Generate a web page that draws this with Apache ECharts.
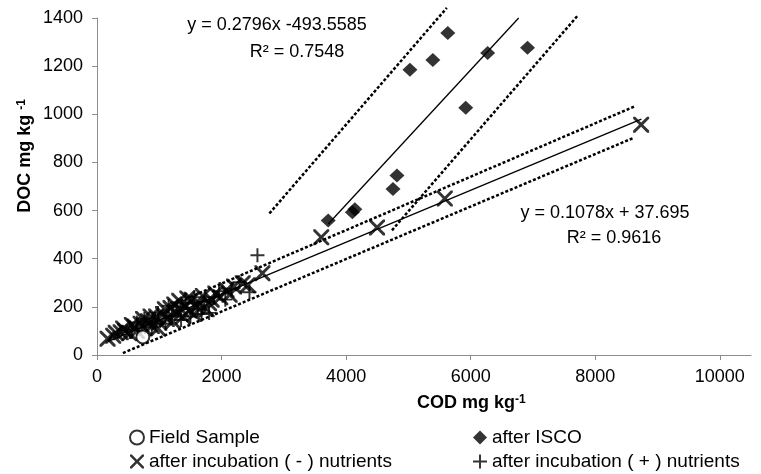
<!DOCTYPE html>
<html>
<head>
<meta charset="utf-8">
<script src="https://cdn.jsdelivr.net/npm/echarts@6/dist/echarts.min.js"></script>
<style>
  html, body { margin: 0; padding: 0; background: #fff; }
  #chart { width: 761px; height: 474px; }
</style>
</head>
<body>
<div id="chart"></div>
<script>
// COD (x) vs DOC (y), mg/kg
const fieldSample = [[736, 75]];

const afterIsco = [
  [3712, 559], [4100, 593], [4140, 606], [4752, 690], [4816, 746],
  [5024, 1185], [5392, 1226], [5632, 1338], [5920, 1027], [6272, 1255], [6912, 1276]
];

const minusNutrients = [
  [170, 68], [260, 80], [300, 92], [380, 95], [420, 110], [450, 100], [520, 90],
  [560, 125], [600, 118], [640, 100], [700, 130], [740, 150], [760, 112], [820, 140],
  [860, 160], [880, 120], [950, 160], [980, 110], [1000, 135], [1060, 170], [1090, 190],
  [1120, 150], [1180, 195], [1220, 140], [1240, 210], [1280, 175], [1320, 225], [1350, 190],
  [1380, 160], [1420, 200], [1450, 235], [1480, 185], [1520, 230], [1560, 170], [1600, 200],
  [1640, 215], [1700, 245], [1760, 190], [1800, 215], [1840, 230], [1900, 255], [1980, 240],
  [2080, 270], [2130, 250], [2200, 285], [2340, 298], [2420, 290], [2656, 340],
  [3600, 489], [4496, 530], [5584, 650], [8736, 957]
];

const plusNutrients = [
  [560, 105], [640, 135], [760, 150], [880, 115], [940, 140], [980, 175], [1100, 130],
  [1150, 205], [1200, 160], [1280, 200], [1350, 145], [1420, 215], [1500, 160],
  [1560, 240], [1620, 190], [1680, 170], [1720, 220], [1800, 175], [1880, 240],
  [1960, 265], [2060, 230], [2160, 275], [2288, 302], [2448, 261], [2576, 414]
];

// trend lines (end points) and the dashed bands drawn around them
const iscoTrend = [[3712, 544], [6770, 1400]];
const iscoUpper = [[2768, 588], [5616, 1442]];
const iscoLower = [[4736, 518], [7728, 1413]];
const incTrend = [[180, 57], [8740, 980]];
const incUpper = [[1200, 208], [8624, 1032]];
const incLower = [[416, 8], [8624, 903]];

const xTicks = [0, 2000, 4000, 6000, 8000, 10000];

const FONT = '"Liberation Sans", Arial, sans-serif';
const X_PATH = 'path://M0,0 L2.6,0 L10,7.4 L17.4,0 L20,0 L20,2.6 L12.6,10 L20,17.4 L20,20 L17.4,20 L10,12.6 L2.6,20 L0,20 L0,17.4 L7.4,10 L0,2.6 Z';
const PLUS_PATH = 'path://M8.6,0 H11.4 V8.6 H20 V11.4 H11.4 V20 H8.6 V11.4 H0 V8.6 H8.6 Z';

const chart = echarts.init(document.getElementById('chart'));

function bandLine(name, data, dashed) {
  return {
    name: name,
    type: 'line',
    data: data,
    symbol: 'none',
    clip: false,
    silent: true,
    z: 1,
    lineStyle: dashed
      ? { color: '#000', width: 2.5, type: [3, 2] }
      : { color: '#000', width: 1.3, type: 'solid' }
  };
}

const legendText = { color: '#000', fontSize: 19, fontFamily: FONT };
const plainNum = v => String(v);

chart.setOption({
  animation: false,
  backgroundColor: '#fff',
  grid: { left: 97, right: 10, top: 18, bottom: 119, containLabel: false, outerBoundsMode: 'none' },
  xAxis: {
    type: 'value',
    min: 0,
    max: 10500,
    interval: 2000,
    splitLine: { show: false },
    axisLine: { lineStyle: { color: '#8c8c8c', width: 1 } },
    axisTick: { show: true, length: 5, lineStyle: { color: '#8c8c8c' }, customValues: xTicks },
    axisLabel: { color: '#000', fontSize: 18, fontFamily: FONT, margin: 13, customValues: xTicks, formatter: plainNum }
  },
  yAxis: {
    type: 'value',
    min: 0,
    max: 1400,
    interval: 200,
    splitLine: { show: false },
    axisLine: { show: true, lineStyle: { color: '#8c8c8c', width: 1 } },
    axisTick: { show: true, length: 5, lineStyle: { color: '#8c8c8c' } },
    axisLabel: { color: '#000', fontSize: 18, fontFamily: FONT, margin: 14, formatter: plainNum }
  },
  legend: [
    {
      data: ['Field Sample', 'after incubation ( - ) nutrients'],
      orient: 'vertical',
      left: 129,
      top: 428,
      padding: 0,
      itemWidth: 14,
      itemHeight: 14,
      itemGap: 5,
      textStyle: legendText
    },
    {
      data: ['after ISCO', 'after incubation ( + ) nutrients'],
      orient: 'vertical',
      left: 473,
      top: 428,
      padding: 0,
      itemWidth: 14,
      itemHeight: 14,
      itemGap: 5,
      textStyle: legendText
    }
  ],
  graphic: [
    {
      type: 'text', x: 277, y: 25,
      style: { text: 'y = 0.2796x -493.5585', fontSize: 18, fontFamily: FONT, fill: '#000', align: 'center', verticalAlign: 'middle' }
    },
    {
      type: 'text', x: 297, y: 52,
      style: { text: 'R² = 0.7548', fontSize: 18, fontFamily: FONT, fill: '#000', align: 'center', verticalAlign: 'middle' }
    },
    {
      type: 'text', x: 605, y: 213,
      style: { text: 'y = 0.1078x + 37.695', fontSize: 18, fontFamily: FONT, fill: '#000', align: 'center', verticalAlign: 'middle' }
    },
    {
      type: 'text', x: 614, y: 238,
      style: { text: 'R² = 0.9616', fontSize: 18, fontFamily: FONT, fill: '#000', align: 'center', verticalAlign: 'middle' }
    },
    {
      type: 'text', x: 25, y: 156, rotation: Math.PI / 2,
      style: {
        text: '{b|DOC mg kg }{s|-1}',
        align: 'center', verticalAlign: 'middle',
        rich: {
          b: { fontSize: 18, fontWeight: 'bold', fontFamily: FONT, fill: '#000', color: '#000' },
          s: { fontSize: 12, fontWeight: 'bold', fontFamily: FONT, fill: '#000', color: '#000', verticalAlign: 'top' }
        }
      }
    },
    {
      type: 'text', x: 417, y: 403,
      style: {
        text: '{b|COD mg kg}{s|-1}',
        align: 'left', verticalAlign: 'middle',
        rich: {
          b: { fontSize: 18, fontWeight: 'bold', fontFamily: FONT, fill: '#000', color: '#000' },
          s: { fontSize: 12, fontWeight: 'bold', fontFamily: FONT, fill: '#000', color: '#000', verticalAlign: 'top' }
        }
      }
    }
  ],
  series: [
    bandLine('iscoTrend', iscoTrend, false),
    bandLine('iscoUpper', iscoUpper, true),
    bandLine('iscoLower', iscoLower, true),
    bandLine('incTrend', incTrend, false),
    bandLine('incUpper', incUpper, true),
    bandLine('incLower', incLower, true),
    {
      name: 'after incubation ( - ) nutrients',
      type: 'scatter',
      symbol: X_PATH,
      symbolSize: 16,
      itemStyle: { color: '#000' },
      z: 3,
      data: minusNutrients
    },
    {
      name: 'after incubation ( + ) nutrients',
      type: 'scatter',
      symbol: PLUS_PATH,
      symbolSize: 14,
      itemStyle: { color: '#000' },
      z: 3,
      data: plusNutrients
    },
    {
      name: 'after ISCO',
      type: 'scatter',
      symbol: 'diamond',
      symbolSize: [15, 14],
      itemStyle: { color: '#000' },
      z: 3,
      data: afterIsco
    },
    {
      name: 'Field Sample',
      type: 'scatter',
      symbol: 'emptyCircle',
      symbolSize: 13,
      itemStyle: { color: '#000', borderColor: '#000', borderWidth: 2.5 },
      z: 4,
      data: fieldSample
    }
  ]
});
</script>
</body>
</html>
